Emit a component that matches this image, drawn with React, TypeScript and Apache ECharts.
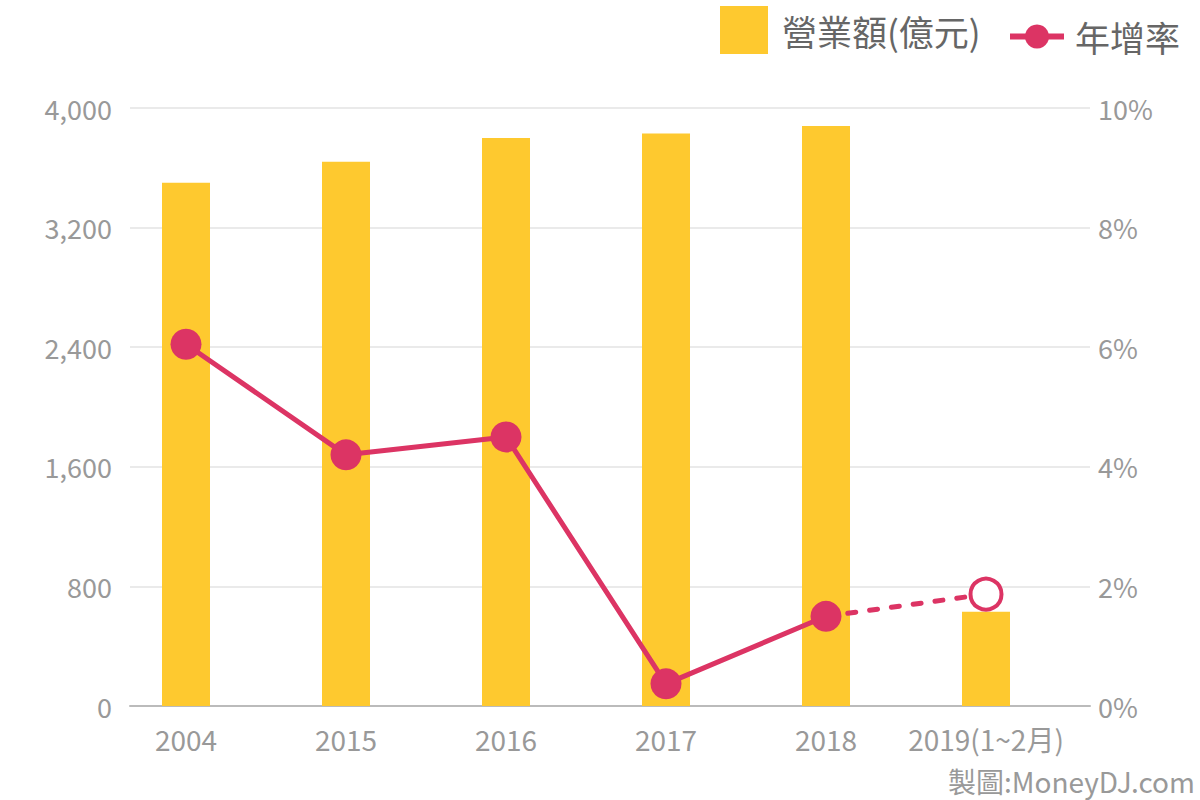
import React, { useEffect, useRef } from "react";
import * as echarts from "echarts";

const years = ["2004", "2015", "2016", "2017", "2018", "2019(1~2月)"];
const revenue = [3500, 3640, 3800, 3830, 3880, 630];
const growth = [6.05, 4.2, 4.5, 0.37, 1.5, 1.87];
const leftTicks = { min: 0, max: 4000, interval: 800 };
const rightTicks = { min: 0, max: 10, interval: 2 };

const BAR = "#fec92f";
const LINE = "#dc3464";
const FONT = "'Noto Sans CJK TC', 'Noto Sans', sans-serif";

export default function App() {
  const ref = useRef<HTMLDivElement>(null);
  useEffect(() => {
    const chart = echarts.init(ref.current!, null, { renderer: "svg" });
    const n = years.length;
    const solid = growth.slice(0, n - 1).map((v, i) => [i, v]);
    const dashed = [
      { value: [n - 2, growth[n - 2]], symbol: "none" },
      {
        value: [n - 1, growth[n - 1]],
        symbol: "circle",
        symbolSize: 31,
        itemStyle: { color: "#fff", borderColor: LINE, borderWidth: 4 },
      },
    ];
    chart.setOption({
      animation: false,
      textStyle: { fontFamily: FONT },
      grid: { left: 130, right: 110, top: 108, bottom: 94 },
      legend: [
        {
          data: [{ name: "營業額(億元)", icon: "rect" }],
          left: 720,
          top: 6,
          itemWidth: 48,
          itemHeight: 48,
          padding: 0,
          textStyle: { fontSize: 35, color: "#666", fontFamily: FONT, padding: [6, 0, 0, 9] },
        },
        {
          data: ["年增率"],
          left: 1007,
          top: 19,
          itemWidth: 54,
          itemHeight: 30,
          padding: 0,
          lineStyle: { width: 6 },
          textStyle: { fontSize: 35, color: "#666", fontFamily: FONT, padding: [0, 0, 0, 6] },
        },
      ],
      xAxis: {
        type: "value",
        min: -0.35,
        max: n - 0.35,
        axisLine: { show: true, lineStyle: { color: "#bbb", width: 2 } },
        axisTick: { show: false },
        splitLine: { show: false },
        axisLabel: {
          customValues: years.map((_, i) => i),
          formatter: (v: number) => years[Math.round(v)] ?? "",
          fontSize: 28,
          color: "#999",
          margin: 19,
          fontFamily: FONT,
        },
      },
      yAxis: [
        {
          type: "value",
          ...leftTicks,
          axisLine: { show: false },
          axisTick: { show: false },
          splitLine: { lineStyle: { color: "#e3e3e3", width: 1.5 } },
          axisLabel: {
            fontSize: 27,
            color: "#999",
            margin: 18,
            fontFamily: FONT,
            formatter: (v: number) => v.toLocaleString("en-US"),
          },
        },
        {
          type: "value",
          ...rightTicks,
          position: "right",
          axisLine: { show: false },
          axisTick: { show: false },
          splitLine: { show: false },
          axisLabel: {
            fontSize: 27,
            color: "#999",
            margin: 8,
            fontFamily: FONT,
            formatter: (v: number) => v + "%",
          },
        },
      ],
      series: [
        {
          name: "營業額(億元)",
          type: "bar",
          barWidth: 48,
          itemStyle: { color: BAR },
          data: revenue.map((v, i) => [i, v]),
          yAxisIndex: 0,
        },
        {
          name: "年增率",
          type: "line",
          yAxisIndex: 1,
          symbol: "circle",
          symbolSize: 31,
          itemStyle: { color: LINE },
          lineStyle: { color: LINE, width: 5 },
          data: solid,
          z: 5,
        },
        {
          name: "年增率",
          type: "line",
          yAxisIndex: 1,
          itemStyle: { color: LINE },
          lineStyle: { color: LINE, width: 5, type: [8, 14], cap: "round" },
          data: dashed,
          z: 4,
        },
      ],
      graphic: [
        {
          type: "text",
          right: 5,
          top: 767,
          style: { text: "製圖:MoneyDJ.com", fontSize: 28, fill: "#999", fontFamily: FONT },
        },
      ],
    });
    return () => chart.dispose();
  }, []);
  return (
    <div
      ref={ref}
      style={{ position: "absolute", left: 0, top: 0, width: 1200, height: 800 }}
    />
  );
}
